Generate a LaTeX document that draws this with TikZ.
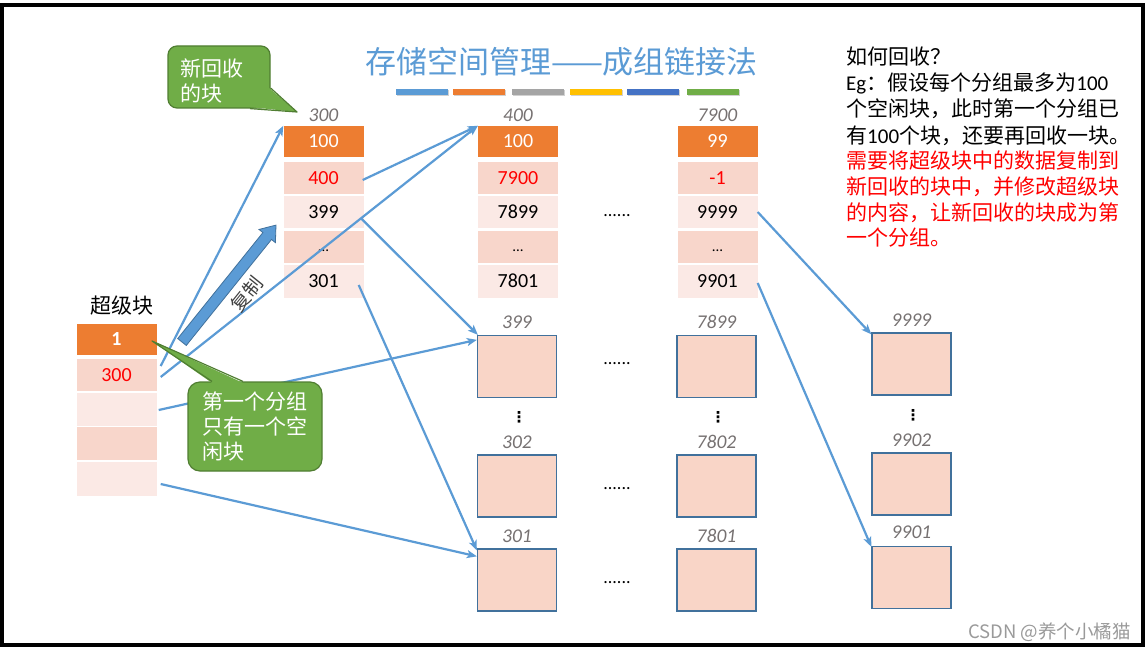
\documentclass[tikz,border=0pt]{standalone}
\usepackage{fontspec}
\setmainfont{Carlito}
\newfontfamily\cjk{Noto Sans CJK SC}
\newfontfamily\dejavu{DejaVu Sans}
\usetikzlibrary{arrows.meta,calc}
\definecolor{ablue}{HTML}{5B9BD5}
\definecolor{aorange}{HTML}{ED7D31}
\definecolor{cdark}{HTML}{F8D6CB}
\definecolor{clight}{HTML}{FBE9E5}
\definecolor{bfill}{HTML}{F9D5C7}
\definecolor{bborder}{HTML}{41719C}
\definecolor{cgreen}{HTML}{70AD47}
\definecolor{cgreenb}{HTML}{507E32}
\definecolor{lgray}{HTML}{767171}
\definecolor{agray}{HTML}{A5A5A5}
\definecolor{agold}{HTML}{FFC000}
\definecolor{adblue}{HTML}{4472C4}
\definecolor{wmgray}{HTML}{9A9A9A}
\definecolor{ared}{HTML}{FF0000}
\begin{document}
\begin{tikzpicture}[x=1pt,y=-1pt,
  cell/.style={minimum width=80pt,minimum height=32pt,inner sep=0pt,font=\fontsize{20}{24}\selectfont},
  hcell/.style={cell,fill=aorange,text=white,minimum height=31pt},
  dcell/.style={cell,fill=cdark},
  lcell/.style={cell,fill=clight},
  blk/.style={draw=bborder,fill=bfill,line width=1.3pt,minimum width=79pt,minimum height=62pt,inner sep=0pt},
  lbl/.style={text=lgray,font=\fontsize{19.5}{22}\selectfont\itshape,inner sep=0pt},
  link/.style={draw=ablue,line width=2.2pt,-{Stealth[length=10pt,width=8pt,inset=2.5pt]}},
  hdots/.style={font=\fontsize{18}{20}\selectfont,inner sep=0pt},
  vdot/.style={font=\dejavu\bfseries\fontsize{15}{16}\selectfont,inner sep=0pt},
  callout/.style={draw=cgreenb,fill=cgreen,line width=1.2pt,text=white,align=left,
    font=\cjk\fontsize{21}{25}\selectfont,inner ysep=0pt},
  rt/.style={anchor=base west,inner sep=0pt,font=\cjk\fontsize{21}{24}\selectfont},
  ]
\useasboundingbox (0,0) rectangle (1147,650);
\fill[white] (0,0) rectangle (1147,650);
\draw[line width=4pt] (2,5) rectangle (1143,644.5);

% title
\node[font=\cjk\fontsize{31}{34}\selectfont,text=ablue,inner sep=0pt] (title) at (561.5,62) {存储空间管理——成组链接法};
\foreach \x/\c in {396/ablue,453/aorange,512/agray,570/agold,627/adblue,687/cgreen}{
  \fill[black!18] (\x+1,90.5) rectangle (\x+53,96.5);
  \fill[\c] (\x,89) rectangle (\x+52,95);
}

% super block
\node[font=\cjk\fontsize{21}{24}\selectfont,inner sep=0pt] (sl) at (122,306) {超级块};
\node[hcell] (s1) at (116.5,339) {\textbf{1}};
\node[dcell,text=ared] (s2) at (116.5,375) {300};
\node[lcell,minimum height=33pt] (s3) at (116.5,409) {};
\node[dcell,minimum height=33pt] (s4) at (116.5,443.5) {};
\node[lcell,minimum height=34pt] (s5) at (116.5,479) {};

% table 300
\node[lbl] (l300) at (323.5,115) {300};
\node[hcell] (p1) at (323.5,141.5) {100};
\node[dcell,text=ared] (p2) at (323.5,178) {400};
\node[lcell] (p3) at (323.5,212) {399};
\node[dcell,font=\fontsize{15}{18}\selectfont] (p4) at (323.5,246.5) {\vphantom{0}...};
\node[lcell,minimum height=33pt] (p5) at (323.5,281) {301};

% table 400
\node[lbl] (l400) at (518,115) {400};
\node[hcell] (q1) at (518,141.5) {100};
\node[dcell,text=ared] (q2) at (518,178) {7900};
\node[lcell] (q3) at (518,212) {7899};
\node[dcell,font=\fontsize{15}{18}\selectfont] (q4) at (518,246.5) {\vphantom{0}...};
\node[lcell,minimum height=33pt] (q5) at (518,281) {7801};

% table 7900
\node[lbl] (l7900) at (717.5,115) {7900};
\node[hcell] (r1) at (717.5,141.5) {99};
\node[dcell,text=ared] (r2) at (717.5,178) {-1};
\node[lcell] (r3) at (717.5,212) {9999};
\node[dcell,font=\fontsize{15}{18}\selectfont] (r4) at (717.5,246.5) {\vphantom{0}...};
\node[lcell,minimum height=33pt] (r5) at (717.5,281) {9901};

\node[hdots] (d1) at (617,216) {......};

% blocks
\node[blk] (b399) at (517,366.5) {};
\node[lbl] (l399) at (517,322) {399};
\node[blk] (b7899) at (716.5,366.5) {};
\node[lbl] (l7899) at (716.5,322) {7899};
\node[blk] (b302) at (517,486) {};
\node[lbl] (l302) at (517,442) {302};
\node[blk] (b7802) at (716.5,486) {};
\node[lbl] (l7802) at (716.5,442) {7802};
\node[blk] (b301) at (517,580) {};
\node[lbl] (l301) at (517,536) {301};
\node[blk] (b7801) at (716.5,580) {};
\node[lbl] (l7801) at (716.5,536) {7801};
\node[blk] (b9999) at (911.5,364) {};
\node[lbl] (l9999) at (911.5,320) {9999};
\node[blk] (b9902) at (911.5,484) {};
\node[lbl] (l9902) at (911.5,440) {9902};
\node[blk] (b9901) at (911.5,577.5) {};
\node[lbl] (l9901) at (911.5,532) {9901};

\node[hdots] (d2) at (617,364) {......};
\node[hdots] (d3) at (617,489) {......};
\node[hdots] (d4) at (617,583) {......};
\node[vdot] (v1) at (519,417) {⋮};
\node[vdot] (v2) at (718,417) {⋮};
\node[vdot] (v3) at (913,415) {⋮};

% links
\draw[link] ([xshift=4pt,yshift=9pt]s2.east) -- (p1.north west);
\draw[link] ([xshift=4pt,yshift=-2pt]s2.east) -- (q1.north west);
\draw[link] ([xshift=-1pt,yshift=-2pt]p2.east) -- (q1.north west);
\draw[link] ([xshift=-3pt,yshift=-6pt]p3.east) -- ([xshift=1pt]b399.north west);
\draw[link] ([xshift=2pt,yshift=-1pt]s3.east) -- ([yshift=-5pt]b399.north west);
\draw[link] ([xshift=4pt,yshift=-5pt]s5.east) -- ([yshift=-8pt]b301.north west);
\draw[link] ([xshift=-5pt,yshift=-4pt]p5.east) -- ([yshift=-2pt]b301.north west);
\draw[link] (r3.east) -- ([yshift=-2pt]b9999.north west);
\draw[link] ([yshift=-2pt]r5.east) -- ([yshift=-1pt]b9901.north west);

% copy arrow
\begin{scope}[shift={(182,342)},rotate=51.2]
  \filldraw[fill=ablue,draw=bborder,line width=0.8pt]
    (0,5.5) -- (136,5.5) -- (136,10.5) -- (150,0) -- (136,-10.5) -- (136,-5.5) -- (0,-5.5) -- cycle;
\end{scope}
\node[rotate=51.2,font=\cjk\fontsize{19}{20}\selectfont,text=black!75,inner sep=0pt] (fz) at (247,294) {复制};

% callouts
\node[callout,minimum width=102pt,minimum height=62pt,text width=78pt,inner xsep=12pt,rounded corners=9pt] (c1) at (219,77) {\rule{0pt}{25pt}新回收\\的块};
\coordinate (t1) at (297,112);
\fill[cgreen] ([xshift=-1.5pt,yshift=-11pt]c1.east) -- (t1) -- ([xshift=31pt,yshift=1.5pt]c1.south) -- cycle;
\draw[cgreenb,line width=1.2pt,line join=round] ([yshift=-11pt]c1.east) -- (t1) -- ([xshift=31pt]c1.south);

\node[callout,minimum width=134pt,minimum height=89pt,text width=106pt,inner xsep=14pt,rounded corners=12pt] (c2) at (255,426.5) {第一个分组\\只有一个空\\闲块};
\coordinate (t2) at (152,341);
\fill[cgreen] ([xshift=-43pt,yshift=-1.5pt]c2.north) -- (t2) -- ([xshift=-12pt,yshift=-1.5pt]c2.north) -- cycle;
\draw[cgreenb,line width=1.2pt,line join=round] ([xshift=-43pt]c2.north) -- (t2) -- ([xshift=-12pt]c2.north);

% right text
\node[rt] (e1) at (846,65) {如何回收？};
\node[rt] (e2) at (846,91) {{\rmfamily Eg}：假设每个分组最多为{\rmfamily 100}};
\node[rt] (e3) at (846,117) {个空闲块，此时第一个分组已};
\node[rt] (e4) at (846,143) {有{\rmfamily 100}个块，还要再回收一块。};
\node[rt,text=ared] (e5) at (846,168.5) {需要将超级块中的数据复制到};
\node[rt,text=ared] (e6) at (846,194.5) {新回收的块中，并修改超级块};
\node[rt,text=ared] (e7) at (846,220) {的内容，让新回收的块成为第};
\node[rt,text=ared] (e8) at (846,245) {一个分组。};

\node[anchor=east,text=wmgray,font=\cjk\fontsize{18.5}{20}\selectfont,inner sep=0pt] (wm) at (1131,632) {CSDN @养个小橘猫};
\end{tikzpicture}
\end{document}
